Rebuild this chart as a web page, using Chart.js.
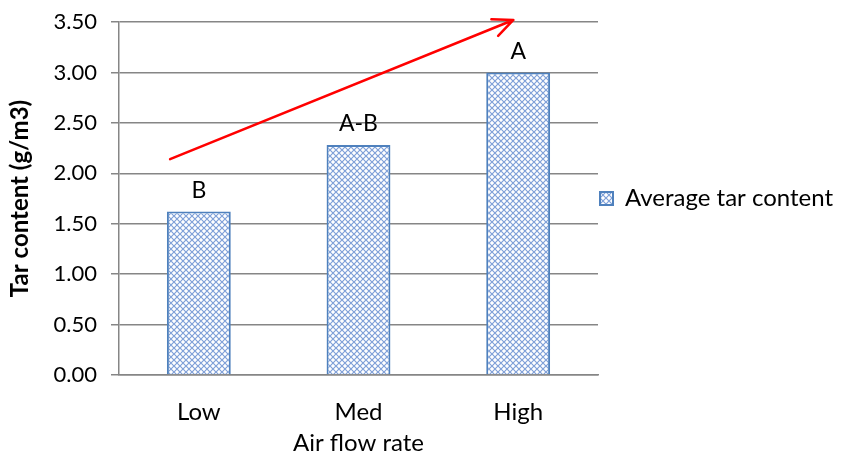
<!DOCTYPE html>
<html>
<head>
<meta charset="utf-8">
<script src="https://cdn.jsdelivr.net/npm/chart.js@4/dist/chart.umd.min.js"></script>
<style>
  html, body { margin: 0; padding: 0; background: #ffffff; }
  #wrap { width: 842px; height: 458px; }
</style>
</head>
<body>
<div id="wrap"><canvas id="c" width="842" height="458"></canvas></div>
<script>
// Air flow rate categories and mean tar content (g/m3)
const categories = ['Low', 'Med', 'High'];
const tarContent = [1.62, 2.28, 3.00];
const groupLetters = ['B', 'A-B', 'A'];
const yTicks = [0, 0.5, 1, 1.5, 2, 2.5, 3, 3.5];
// Trend arrow, start and end in (category index, g/m3)
const trendStart = [-0.18, 2.14];
const trendEnd = [1.97, 3.52];

const FONT = 'Lato, "Open Sans", sans-serif';
const GRID = '#868686';
const LEGEND_WIDTH = 244;

// Small-diamond hatch fill
function makePattern() {
  const t = document.createElement('canvas');
  t.width = 6; t.height = 6;
  const g = t.getContext('2d');
  g.fillStyle = '#ffffff';
  g.fillRect(0, 0, 6, 6);
  g.strokeStyle = '#7fa0d8';
  g.lineWidth = 1.2;
  g.beginPath();
  g.moveTo(0, 0); g.lineTo(6, 6);
  g.moveTo(6, 0); g.lineTo(0, 6);
  g.stroke();
  return g.createPattern(t, 'repeat');
}
const hatch = makePattern();

// Give the side legend room for its full label
const legendWidthPlugin = {
  id: 'legendWidth',
  beforeLayout(chart) {
    const lg = chart.legend;
    if (lg && !lg._widthPatched) {
      const fit = lg.fit;
      lg.fit = function () {
        fit.call(this);
        this.width = LEGEND_WIDTH;
      };
      lg._widthPatched = true;
    }
  }
};

// Letters above each bar
const letterPlugin = {
  id: 'letters',
  afterDatasetsDraw(chart) {
    const ctx = chart.ctx;
    const meta = chart.getDatasetMeta(0);
    ctx.save();
    ctx.font = '23px ' + FONT;
    ctx.fillStyle = '#000000';
    ctx.textAlign = 'center';
    ctx.textBaseline = 'middle';
    meta.data.forEach((bar, i) => {
      ctx.fillText(groupLetters[i], bar.x, bar.y - 21);
    });
    ctx.restore();
  }
};

// Red trend arrow
const arrowPlugin = {
  id: 'arrow',
  afterDraw(chart) {
    const xs = chart.scales.x, ys = chart.scales.y;
    const x0 = xs.getPixelForValue(trendStart[0]), y0 = ys.getPixelForValue(trendStart[1]);
    const x1 = xs.getPixelForValue(trendEnd[0]), y1 = ys.getPixelForValue(trendEnd[1]);
    const ctx = chart.ctx;
    const ang = Math.atan2(y1 - y0, x1 - x0);
    const head = 22, spread = 0.42;
    ctx.save();
    ctx.strokeStyle = '#ff0000';
    ctx.lineWidth = 2.5;
    ctx.lineCap = 'round';
    ctx.lineJoin = 'round';
    ctx.beginPath();
    ctx.moveTo(x0, y0);
    ctx.lineTo(x1, y1);
    ctx.moveTo(x1 - head * Math.cos(ang - spread), y1 - head * Math.sin(ang - spread));
    ctx.lineTo(x1, y1);
    ctx.lineTo(x1 - head * Math.cos(ang + spread), y1 - head * Math.sin(ang + spread));
    ctx.stroke();
    ctx.restore();
  }
};

new Chart(document.getElementById('c'), {
  type: 'bar',
  data: {
    labels: categories,
    datasets: [{
      label: 'Average tar content',
      data: tarContent,
      backgroundColor: hatch,
      borderColor: '#4f81bd',
      borderWidth: 2,
      barPercentage: 0.4,
      categoryPercentage: 1.0
    }]
  },
  options: {
    responsive: false,
    animation: false,
    devicePixelRatio: 1,
    layout: { padding: { left: 0, top: 22, right: 0, bottom: 0 } },
    plugins: {
      tooltip: { enabled: false },
      legend: {
        position: 'right',
        fullSize: false,
        labels: {
          font: { family: FONT, size: 24 },
          color: '#000000',
          boxWidth: 13,
          boxHeight: 13,
          padding: 2
        }
      }
    },
    scales: {
      x: {
        afterFit(scale) { scale.height = 83; },
        grid: { display: false, drawTicks: false },
        border: { color: GRID, width: 1.5 },
        ticks: { font: { family: FONT, size: 24 }, color: '#000000', padding: 23 },
        title: { display: true, text: 'Air flow rate', font: { family: FONT, size: 24 }, color: '#000000', padding: { top: 0, bottom: 0 } }
      },
      y: {
        min: 0, max: 3.5,
        afterFit(scale) {
          scale.width = 119;
          scale.paddingTop = 0;
          scale.paddingBottom = 0;
        },
        afterBuildTicks(scale) { scale.ticks = yTicks.map(v => ({ value: v })); },
        grid: { color: GRID, lineWidth: 1.5, tickLength: 8, drawTicks: true },
        border: { color: GRID, width: 1.5 },
        ticks: {
          font: { family: FONT, size: 22 }, color: '#000000', padding: 14,
          callback: v => Number(v).toFixed(2)
        },
        title: { display: true, text: 'Tar content (g/m3)', font: { family: FONT, size: 24, weight: 'bold' }, color: '#000000', padding: { top: 6, bottom: 0 } }
      }
    }
  },
  plugins: [legendWidthPlugin, letterPlugin, arrowPlugin]
});
</script>
</body>
</html>
